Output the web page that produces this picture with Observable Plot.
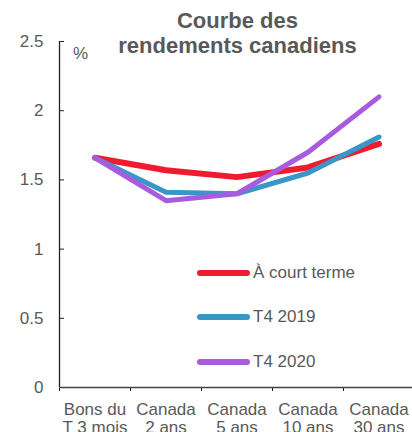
<!DOCTYPE html>
<html>
<head>
<meta charset="utf-8">
<script src="https://cdn.jsdelivr.net/npm/d3@7"></script>
<script src="https://cdn.jsdelivr.net/npm/@observablehq/plot@0.6"></script>
<style>
  html, body { margin: 0; padding: 0; background: #fff; }
  #wrap { position: relative; width: 412px; height: 432px; overflow: hidden; font-family: "Liberation Sans", Arial, sans-serif; color: #595959; }
  #title { position: absolute; left: 237.5px; top: 8px; transform: translateX(-50%); white-space: nowrap; text-align: center; font-weight: bold; font-size: 22px; line-height: 25px; color: #595959; }
  #unit { position: absolute; left: 73px; top: 45px; font-size: 17px; line-height: 17px; }
  #legend { position: absolute; left: 197px; top: 250.5px; }
  .item { display: flex; align-items: center; height: 44.5px; font-size: 17px; }
  .sw { width: 53px; height: 6px; border-radius: 3px; margin-right: 3px; }
  svg { position: absolute; left: 0; top: 0; }
</style>
</head>
<body>
<div id="wrap">
  <div id="chart"></div>
  <div id="title">Courbe des<br>rendements canadiens</div>
  <div id="unit">%</div>
  <div id="legend"></div>
</div>
<script>
const categories = ["Bons du\nT 3 mois", "Canada\n2 ans", "Canada\n5 ans", "Canada\n10 ans", "Canada\n30 ans"];
const seriesNames = ["À court terme", "T4 2019", "T4 2020"];
const courtTerme = [1.66, 1.57, 1.52, 1.59, 1.76];
const t4_2019 = [1.66, 1.41, 1.40, 1.55, 1.81];
const t4_2020 = [1.66, 1.35, 1.40, 1.70, 2.10];
const colors = ["#EE1C2E", "#3A96C9", "#A95BE0"];
const widths = [6, 5, 5];
const yTicks = [0, 0.5, 1, 1.5, 2, 2.5];

const series = [courtTerme, t4_2019, t4_2020];
const data = series.flatMap((vals, s) => vals.map((v, i) => ({ series: seriesNames[s], pos: i + 0.5, value: v })));

const lines = seriesNames.map((name, s) =>
  Plot.line(data.filter(d => d.series === name), {
    x: "pos", y: "value", stroke: colors[s], strokeWidth: widths[s],
    strokeLinecap: "round", strokeLinejoin: "round"
  })
);

const chart = Plot.plot({
  width: 412,
  height: 432,
  marginLeft: 59,
  marginTop: 41,
  marginBottom: 45,
  marginRight: 0,
  style: { fontFamily: "Liberation Sans, Arial, sans-serif", fontSize: "17px", color: "#595959", background: "transparent", overflow: "visible" },
  x: { domain: [0, categories.length], range: [59, 414] },
  y: { domain: [0, 2.5], range: [387, 41] },
  marks: [
    Plot.axisY({ ticks: yTicks, tickSize: -5, tickPadding: 21, tickFormat: d => String(d), label: null, stroke: "#222", fill: "#595959", fontSize: 17 }),
    Plot.axisX({ ticks: d3.range(0, categories.length + 1), tickSize: 4, tickFormat: () => "", label: null, stroke: "#222" }),
    Plot.axisX({ ticks: d3.range(categories.length).map(i => i + 0.5), tickSize: 0, tickPadding: 15, tickFormat: d => categories[Math.floor(d)], label: null, fill: "#595959", fontSize: 17, lineHeight: 1.06 }),
    Plot.ruleX([0], { stroke: "#222", strokeWidth: 1.3 }),
    Plot.ruleY([0], { stroke: "#444", strokeWidth: 1.3 }),
    ...lines
  ]
});
document.getElementById("chart").appendChild(chart);

const legend = document.getElementById("legend");
seriesNames.forEach((name, s) => {
  const item = document.createElement("div");
  item.className = "item";
  const sw = document.createElement("div");
  sw.className = "sw";
  sw.style.background = colors[s];
  const label = document.createElement("span");
  label.textContent = name;
  item.appendChild(sw);
  item.appendChild(label);
  legend.appendChild(item);
});
</script>
</body>
</html>
